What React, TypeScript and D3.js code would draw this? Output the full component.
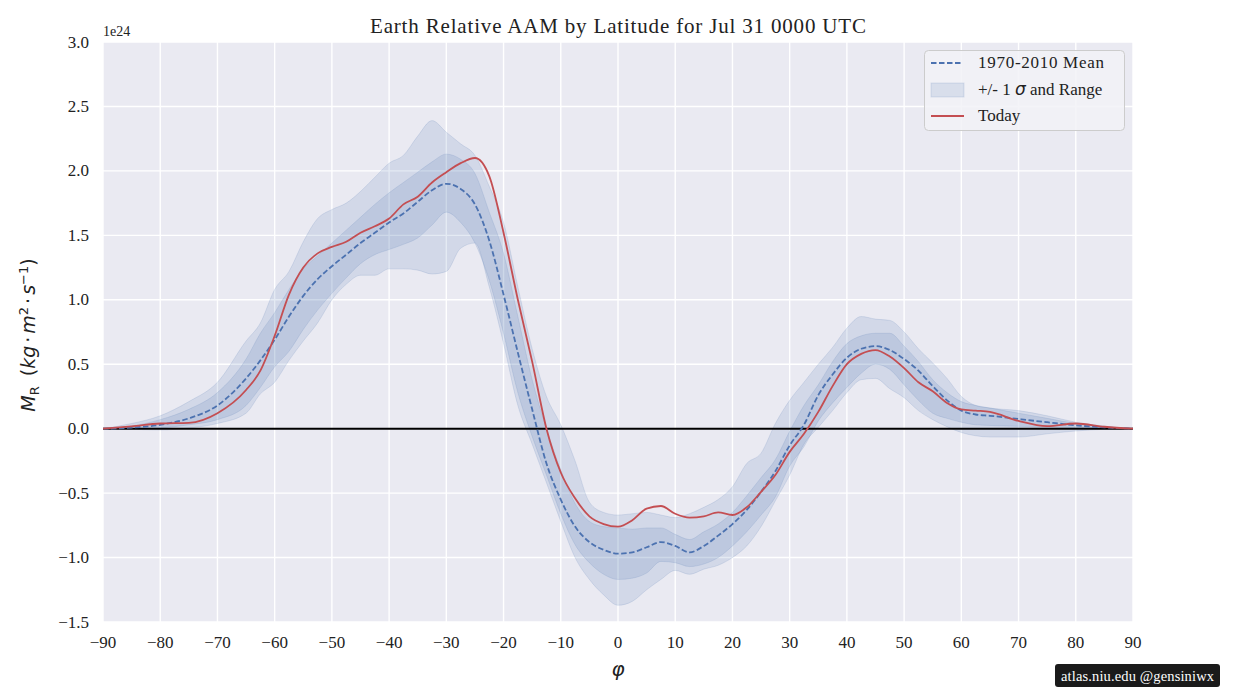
import React from "react";
import * as d3 from "d3";

const LAT = [-90,-85,-80,-75,-70,-65,-62.5,-60,-57.5,-55,-52.5,-50,-47.5,-45,-42.5,-40,-37.5,-35,-32.5,-30,-27.5,-25,-22.5,-20,-17.5,-15,-12.5,-10,-7.5,-5,-2.5,0,2.5,5,7.5,10,12.5,15,17.5,20,22.5,25,27.5,30,32.5,35,37.5,40,42.5,45,47.5,50,52.5,55,57.5,60,62.5,65,70,75,80,85,90];

const MEAN = [0,0.008,0.03,0.08,0.18,0.39,0.53,0.69,0.87,1.03,1.16,1.26,1.35,1.44,1.52,1.60,1.67,1.76,1.85,1.90,1.86,1.74,1.46,1.04,0.59,0.15,-0.27,-0.55,-0.76,-0.88,-0.94,-0.97,-0.96,-0.92,-0.88,-0.91,-0.96,-0.91,-0.83,-0.74,-0.63,-0.49,-0.33,-0.13,0.03,0.26,0.42,0.55,0.62,0.64,0.61,0.54,0.45,0.33,0.22,0.14,0.11,0.10,0.075,0.05,0.026,0.01,0];

const TODAY = [0,0.018,0.04,0.045,0.12,0.30,0.45,0.72,1.04,1.25,1.36,1.41,1.45,1.52,1.57,1.63,1.74,1.80,1.91,1.99,2.06,2.10,1.96,1.52,1.00,0.52,0.0,-0.34,-0.54,-0.68,-0.74,-0.76,-0.71,-0.62,-0.60,-0.66,-0.69,-0.68,-0.65,-0.67,-0.61,-0.49,-0.36,-0.18,-0.04,0.13,0.33,0.50,0.58,0.61,0.56,0.47,0.36,0.29,0.20,0.15,0.14,0.13,0.06,0.02,0.04,0.015,0];

const SIGMA_HI = [0,0.02,0.07,0.15,0.28,0.54,0.74,0.90,1.08,1.24,1.34,1.44,1.54,1.64,1.74,1.83,1.91,1.99,2.07,2.13,2.09,1.98,1.68,1.36,0.87,0.38,0.0,-0.32,-0.58,-0.72,-0.76,-0.77,-0.78,-0.77,-0.77,-0.82,-0.86,-0.80,-0.74,-0.65,-0.52,-0.38,-0.24,-0.02,0.18,0.34,0.52,0.66,0.72,0.74,0.74,0.64,0.52,0.38,0.28,0.21,0.18,0.16,0.12,0.08,0.04,0.015,0];

const SIGMA_LO = [0,-0.002,0.005,0.03,0.07,0.18,0.32,0.48,0.60,0.77,0.92,1.05,1.17,1.28,1.35,1.39,1.43,1.48,1.58,1.68,1.60,1.44,1.15,0.74,0.28,-0.06,-0.36,-0.66,-0.90,-1.04,-1.13,-1.17,-1.16,-1.12,-1.03,-1.04,-1.07,-1.05,-1.00,-0.91,-0.80,-0.67,-0.53,-0.29,-0.14,0.06,0.20,0.32,0.43,0.50,0.46,0.34,0.22,0.12,0.08,0.05,0.03,0.025,0.018,0.013,0.008,0.003,0];

const RANGE_HI = [0,0.04,0.10,0.21,0.36,0.68,0.82,1.08,1.22,1.45,1.63,1.70,1.75,1.84,1.95,2.06,2.12,2.27,2.39,2.30,2.21,2.12,1.88,1.60,1.10,0.62,0.25,0.03,-0.25,-0.57,-0.65,-0.67,-0.66,-0.65,-0.67,-0.69,-0.66,-0.61,-0.55,-0.45,-0.27,-0.19,0.04,0.22,0.36,0.50,0.63,0.78,0.87,0.85,0.84,0.75,0.62,0.51,0.39,0.25,0.18,0.16,0.14,0.10,0.05,0.02,0];

const RANGE_LO = [0,-0.005,-0.01,0.005,0.04,0.12,0.27,0.36,0.53,0.68,0.82,1.0,1.12,1.19,1.19,1.24,1.24,1.23,1.20,1.22,1.40,1.44,1.10,0.66,0.18,-0.12,-0.42,-0.72,-1.00,-1.17,-1.29,-1.37,-1.34,-1.25,-1.17,-1.10,-1.13,-1.09,-1.06,-1.00,-0.91,-0.76,-0.56,-0.36,-0.12,0.01,0.14,0.28,0.38,0.39,0.31,0.24,0.14,0.07,0.015,-0.03,-0.055,-0.065,-0.065,-0.04,-0.018,-0.005,0];

const X_TICKS = [-90,-80,-70,-60,-50,-40,-30,-20,-10,0,10,20,30,40,50,60,70,80,90];
const Y_TICKS = [-1.5,-1.0,-0.5,0.0,0.5,1.0,1.5,2.0,2.5,3.0];

const TITLE = "Earth Relative AAM by Latitude for Jul 31 0000 UTC";
const SERIF = "'Liberation Serif', 'DejaVu Serif', serif";
const SANS = "'DejaVu Sans', sans-serif";
const BLUE = "#4C72B0";
const RED = "#C44E52";

const W = 1246, H = 700;
const L = 103, R = 1133, T = 42, B = 622;

function fmt(v: number) {
  const s = Math.abs(v).toFixed(1);
  return v < 0 ? "\u2212" + s : s;
}

export default function App() {
  const x = d3.scaleLinear().domain([-90, 90]).range([L, R]);
  const y = d3.scaleLinear().domain([-1.5, 3.0]).range([B, T]);
  const idx = LAT.map((_, i) => i);

  const band = (lo: number[], hi: number[]) =>
    d3.area<number>()
      .x((i) => x(LAT[i]))
      .y0((i) => y(lo[i]))
      .y1((i) => y(hi[i]))
      .curve(d3.curveMonotoneX)(idx) || "";
  const line = (v: number[]) =>
    d3.line<number>()
      .x((i) => x(LAT[i]))
      .y((i) => y(v[i]))
      .curve(d3.curveMonotoneX)(idx) || "";

  return (
    <svg width={W} height={H} style={{ position: "absolute", left: 0, top: 0, background: "#fff" }}>
      <rect x={0} y={0} width={W} height={H} fill="#fff" />
      <text x={618} y={33} textAnchor="middle" fontFamily={SERIF} fontSize={21} textLength={496} lengthAdjust="spacing" fill="#222">{TITLE}</text>
      <rect x={L} y={T} width={R - L} height={B - T} fill="#EAEAF2" />
      {X_TICKS.map((t) => (
        <line key={"gx" + t} x1={x(t)} x2={x(t)} y1={T} y2={B} stroke="#fff" strokeWidth={1.4} />
      ))}
      {Y_TICKS.map((t) => (
        <line key={"gy" + t} x1={L} x2={R} y1={y(t)} y2={y(t)} stroke="#fff" strokeWidth={1.4} />
      ))}
      <defs>
        <clipPath id="plotclip"><rect x={L} y={T} width={R - L} height={B - T} /></clipPath>
      </defs>
      <g clipPath="url(#plotclip)">
        <path d={band(RANGE_LO, RANGE_HI)} fill={BLUE} fillOpacity={0.15} stroke={BLUE} strokeOpacity={0.15} strokeWidth={1} />
        <path d={band(SIGMA_LO, SIGMA_HI)} fill={BLUE} fillOpacity={0.15} stroke={BLUE} strokeOpacity={0.15} strokeWidth={1} />
        <line x1={L} x2={R} y1={y(0)} y2={y(0)} stroke="#000" strokeWidth={2} />
        <path d={line(MEAN)} fill="none" stroke={BLUE} strokeWidth={1.8} strokeDasharray="5.5,2.5" />
        <path d={line(TODAY)} fill="none" stroke={RED} strokeWidth={1.8} />
      </g>
      {Y_TICKS.map((t) => (
        <text key={"ty" + t} x={89} y={y(t) + 5.5} textAnchor="end" fontFamily={SERIF} fontSize={17} fill="#222">{fmt(t)}</text>
      ))}
      {X_TICKS.map((t) => (
        <text key={"tx" + t} x={x(t)} y={648} textAnchor="middle" fontFamily={SERIF} fontSize={17} fill="#222">{t < 0 ? "\u2212" + Math.abs(t) : String(t)}</text>
      ))}
      <text x={L} y={36} fontFamily={SERIF} fontSize={14} fill="#222">1e24</text>
      <text x={618} y={676} textAnchor="middle" fontFamily={SANS} fontStyle="italic" fontSize={20} fill="#222">φ</text>
      <text transform={`translate(35,${(T + B) / 2 + 3}) rotate(-90)`} textAnchor="middle" fontFamily={SANS} fontSize={19} fill="#222">
        <tspan fontStyle="italic">M</tspan>
        <tspan fontSize={13} dy={4}>R</tspan>
        <tspan dy={-4} dx={10}>(</tspan>
        <tspan fontStyle="italic">kg</tspan>
        <tspan dx={3}>·</tspan>
        <tspan fontStyle="italic" dx={3}>m</tspan>
        <tspan fontSize={13} dy={-7}>2</tspan>
        <tspan dy={7} dx={3}>·</tspan>
        <tspan fontStyle="italic" dx={3}>s</tspan>
        <tspan fontSize={13} dy={-7}>−1</tspan>
        <tspan dy={7}>)</tspan>
      </text>
      <g>
        <rect x={924.5} y={50.5} width={200} height={80} rx={4} fill="#F2F2F7" fillOpacity={0.85} stroke="#CCCCCC" strokeWidth={1} />
        <line x1={931} x2={961} y1={63} y2={63} stroke={BLUE} strokeWidth={1.8} strokeDasharray="5.5,2.5" />
        <text x={978} y={68} fontFamily={SERIF} fontSize={17} textLength={126} lengthAdjust="spacing" fill="#222">1970-2010 Mean</text>
        <rect x={931} y={83} width={33} height={14} fill={BLUE} fillOpacity={0.15} stroke={BLUE} strokeOpacity={0.15} />
        <text x={978} y={95} fontFamily={SERIF} fontSize={17} fill="#222">+/- 1 <tspan fontFamily={SANS} fontStyle="italic">σ</tspan> and Range</text>
        <line x1={931} x2={964} y1={116} y2={116} stroke={RED} strokeWidth={1.8} />
        <text x={978} y={121} fontFamily={SERIF} fontSize={17} fill="#222">Today</text>
      </g>
      <g>
        <rect x={1055} y={664} width={165} height={23} rx={3} fill="#1a1a1a" />
        <text x={1137.5} y={680.5} textAnchor="middle" fontFamily={SERIF} fontSize={14.5} textLength={153} lengthAdjust="spacing" fill="#fff">atlas.niu.edu  @gensiniwx</text>
      </g>
    </svg>
  );
}
